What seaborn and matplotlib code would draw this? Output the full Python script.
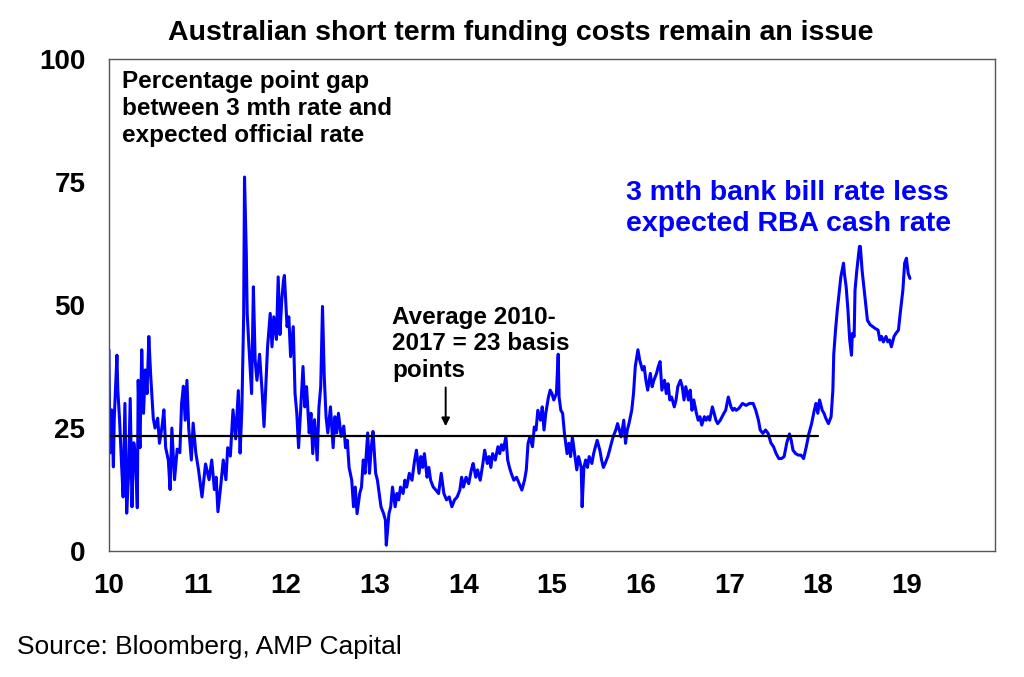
import seaborn as sns
import pandas as pd
import matplotlib.pyplot as plt

# 3 mth bank bill rate less expected RBA cash rate (basis points), x = year (10 = 2010)
years = [
    10.00, 10.01, 10.03, 10.05, 10.06, 10.09, 10.10, 10.12, 10.14, 10.16, 10.18, 10.20, 10.22, 10.24,
    10.26, 10.28, 10.30, 10.32, 10.33, 10.35, 10.37, 10.39, 10.41, 10.43, 10.45, 10.47, 10.50, 10.52,
    10.55, 10.57, 10.60, 10.62, 10.64, 10.67, 10.69, 10.71, 10.74, 10.77, 10.80, 10.82, 10.84, 10.86,
    10.88, 10.90, 10.93, 10.95, 10.98, 11.01, 11.05, 11.09, 11.13, 11.16, 11.19, 11.21, 11.23, 11.26,
    11.29, 11.32, 11.34, 11.37, 11.40, 11.43, 11.46, 11.48, 11.50, 11.52, 11.53, 11.55, 11.56, 11.58,
    11.61, 11.63, 11.65, 11.67, 11.70, 11.73, 11.75, 11.77, 11.79, 11.82, 11.84, 11.86, 11.89, 11.91,
    11.93, 11.95, 11.97, 11.98, 12.01, 12.03, 12.05, 12.08, 12.10, 12.12, 12.14, 12.17, 12.19, 12.21,
    12.23, 12.26, 12.28, 12.30, 12.32, 12.35, 12.37, 12.39, 12.41, 12.43, 12.45, 12.47, 12.50, 12.53,
    12.55, 12.57, 12.59, 12.62, 12.65, 12.67, 12.69, 12.71, 12.74, 12.76, 12.78, 12.80, 12.83, 12.85,
    12.87, 12.89, 12.92, 12.94, 12.96, 12.98, 13.01, 13.03, 13.05, 13.07, 13.10, 13.12, 13.13, 13.16,
    13.18, 13.20, 13.23, 13.25, 13.27, 13.29, 13.32, 13.34, 13.36, 13.39, 13.42, 13.45, 13.47, 13.50,
    13.52, 13.54, 13.56, 13.59, 13.61, 13.63, 13.66, 13.69, 13.72, 13.75, 13.78, 13.81, 13.84, 13.87,
    13.90, 13.93, 13.96, 13.98, 14.00, 14.03, 14.06, 14.09, 14.11, 14.14, 14.16, 14.19, 14.22, 14.24,
    14.27, 14.29, 14.31, 14.33, 14.36, 14.39, 14.41, 14.43, 14.45, 14.48, 14.50, 14.52, 14.54, 14.57,
    14.60, 14.63, 14.66, 14.69, 14.71, 14.73, 14.75, 14.78, 14.80, 14.82, 14.84, 14.87, 14.89, 14.91,
    14.93, 14.96, 14.98, 15.00, 15.02, 15.05, 15.07, 15.08, 15.10, 15.12, 15.14, 15.17, 15.19, 15.21,
    15.23, 15.26, 15.28, 15.30, 15.33, 15.34, 15.36, 15.38, 15.40, 15.42, 15.45, 15.47, 15.49, 15.51,
    15.54, 15.56, 15.58, 15.60, 15.63, 15.65, 15.67, 15.69, 15.72, 15.74, 15.76, 15.78, 15.81, 15.83,
    15.85, 15.87, 15.90, 15.92, 15.94, 15.97, 15.99, 16.02, 16.04, 16.06, 16.08, 16.11, 16.13, 16.15,
    16.18, 16.20, 16.22, 16.24, 16.27, 16.29, 16.31, 16.33, 16.35, 16.38, 16.40, 16.42, 16.45, 16.47,
    16.49, 16.51, 16.54, 16.56, 16.58, 16.60, 16.63, 16.65, 16.67, 16.69, 16.72, 16.74, 16.76, 16.78,
    16.81, 16.83, 16.85, 16.87, 16.90, 16.92, 16.94, 16.96, 16.99, 17.02, 17.04, 17.06, 17.08, 17.11,
    17.15, 17.19, 17.23, 17.27, 17.30, 17.33, 17.35, 17.38, 17.41, 17.44, 17.47, 17.50, 17.53, 17.56,
    17.59, 17.62, 17.65, 17.68, 17.70, 17.72, 17.75, 17.78, 17.81, 17.84, 17.87, 17.90, 17.93, 17.96,
    17.98, 18.00, 18.02, 18.05, 18.07, 18.09, 18.12, 18.15, 18.17, 18.18, 18.20, 18.22, 18.24, 18.26,
    18.29, 18.30, 18.32, 18.34, 18.36, 18.38, 18.39, 18.41, 18.42, 18.44, 18.47, 18.48, 18.50, 18.52,
    18.54, 18.56, 18.59, 18.62, 18.65, 18.68, 18.70, 18.72, 18.74, 18.77, 18.79, 18.81, 18.83, 18.86,
    18.88, 18.91, 18.93, 18.96, 18.98, 19.00, 19.02, 19.04,
]
gap_bp = [
    40.9, 19.9, 28.7, 17.1, 27.0, 39.8, 32.7, 26.6, 18.5, 11.0, 30.0, 7.7, 15.0, 31.0,
    9.0, 22.0, 19.2, 8.8, 34.7, 21.0, 40.9, 28.0, 36.8, 32.0, 43.6, 36.0, 27.0, 25.0,
    27.0, 21.9, 25.4, 28.7, 21.0, 18.5, 12.5, 25.0, 14.5, 20.7, 20.0, 30.0, 33.5, 26.6,
    34.7, 25.0, 18.5, 26.0, 20.0, 16.6, 11.0, 17.7, 14.5, 18.5, 12.5, 15.0, 8.0, 13.0,
    18.5, 14.5, 21.0, 19.3, 28.7, 22.8, 32.6, 19.9, 28.7, 47.6, 76.0, 60.5, 48.3, 41.5,
    32.0, 53.7, 38.8, 34.7, 40.0, 32.0, 25.3, 33.5, 41.5, 48.3, 41.5, 47.6, 43.0, 55.7,
    44.0, 51.0, 55.0, 56.0, 45.6, 47.6, 39.5, 45.6, 32.0, 28.0, 21.0, 30.7, 37.5, 29.3,
    33.4, 24.0, 28.0, 19.8, 26.7, 18.5, 29.3, 33.4, 49.7, 35.4, 27.3, 24.0, 29.3, 21.0,
    27.3, 24.0, 28.0, 23.3, 25.4, 21.0, 22.5, 17.0, 14.4, 9.0, 13.0, 7.6, 11.7, 13.0,
    18.5, 15.8, 24.0, 15.8, 21.0, 24.3, 15.8, 14.4, 11.7, 9.0, 7.6, 6.3, 1.2, 7.6,
    9.0, 13.0, 9.0, 11.7, 10.4, 13.0, 11.7, 14.4, 13.0, 15.8, 14.4, 18.5, 20.5, 15.8,
    19.2, 17.0, 19.8, 15.0, 17.0, 14.4, 13.0, 12.4, 11.7, 15.8, 11.7, 10.4, 11.0, 9.0,
    10.4, 11.0, 12.4, 15.0, 13.0, 15.0, 13.7, 16.5, 17.8, 15.0, 16.5, 14.4, 17.8, 20.5,
    17.8, 19.2, 17.0, 19.8, 18.5, 21.2, 19.8, 21.6, 20.5, 23.2, 18.5, 17.0, 15.8, 14.4,
    15.0, 13.7, 12.4, 14.4, 16.5, 21.9, 23.2, 21.2, 25.2, 24.6, 28.6, 26.6, 29.3, 24.6,
    28.0, 31.3, 32.7, 32.0, 30.7, 32.0, 40.0, 31.3, 28.6, 28.0, 24.0, 19.8, 21.9, 19.2,
    23.2, 19.2, 16.5, 19.2, 17.0, 9.0, 17.0, 18.5, 17.0, 19.2, 17.8, 19.8, 21.2, 22.5,
    20.5, 18.5, 17.0, 17.8, 19.2, 20.5, 21.9, 23.2, 24.6, 25.9, 24.6, 23.2, 26.6, 21.9,
    24.6, 26.0, 28.6, 32.0, 37.5, 40.9, 38.8, 36.8, 37.5, 34.7, 32.7, 36.1, 33.4, 34.7,
    36.1, 37.5, 38.5, 32.7, 34.7, 32.0, 34.0, 30.7, 31.3, 29.3, 30.7, 33.4, 34.7, 33.4,
    30.7, 33.4, 30.7, 32.7, 28.6, 30.7, 28.0, 26.6, 27.3, 25.6, 27.3, 26.6, 27.3, 26.6,
    29.3, 28.0, 26.6, 25.9, 26.6, 27.3, 28.0, 28.6, 31.3, 29.3, 28.6, 29.0, 28.6, 29.0,
    30.0, 29.6, 30.0, 30.0, 28.6, 26.6, 24.6, 23.9, 24.6, 23.9, 22.0, 21.2, 19.8, 18.8,
    18.8, 19.2, 22.0, 23.8, 22.5, 20.5, 19.8, 19.5, 19.5, 18.8, 21.2, 23.9, 25.9, 28.6,
    30.0, 28.0, 30.7, 28.6, 28.0, 27.0, 25.9, 27.3, 32.7, 40.0, 44.9, 49.0, 52.4, 55.7,
    58.5, 56.4, 53.7, 49.0, 42.9, 39.8, 44.2, 43.6, 53.0, 57.0, 61.9, 61.9, 57.0, 53.7,
    50.3, 46.9, 46.0, 45.6, 45.2, 44.9, 42.9, 43.6, 42.5, 43.6, 42.5, 42.9, 41.5, 43.6,
    44.2, 44.9, 48.3, 53.0, 58.5, 59.5, 56.4, 55.4,
]

avg_years = [10.0, 18.0]
avg_value = 23.4          # average 2010-2017
x_ticks = list(range(10, 20))
y_ticks = [0, 25, 50, 75, 100]

df = pd.DataFrame({'year': years, 'gap': gap_bp})
df_avg = pd.DataFrame({'year': avg_years, 'gap': [avg_value] * len(avg_years)})

sns.set_style('white')
plt.rcParams['font.family'] = ['Liberation Sans', 'DejaVu Sans']
plt.rcParams['text.color'] = 'black'

fig, ax = plt.subplots(figsize=(10.24, 6.77), dpi=100)
fig.subplots_adjust(left=0.1064, right=0.9717, bottom=0.186, top=0.913)

sns.lineplot(data=df, x='year', y='gap', color='#0000FF', linewidth=2.2, estimator=None, ax=ax)
sns.lineplot(data=df_avg, x='year', y='gap', color='black', linewidth=1.6, estimator=None, ax=ax)

ax.set_xlim(10, 20)
ax.set_ylim(0, 100)
ax.set_xticks(x_ticks)
ax.set_yticks(y_ticks)
ax.set_xticklabels([str(t) for t in x_ticks], fontsize=20, fontweight='bold')
ax.set_yticklabels([str(t) for t in y_ticks], fontsize=20, fontweight='bold')
ax.tick_params(axis='both', direction='in', length=5, width=1, color='#555555', labelcolor='black')
ax.tick_params(axis='x', pad=16)
ax.tick_params(axis='y', pad=17)
ax.set_xlabel('')
ax.set_ylabel('')
for sp in ax.spines.values():
    sp.set_color('#555555')
    sp.set_linewidth(1)

# annotations
ax.text(10.15, 97.8, 'Percentage point gap\nbetween 3 mth rate and\nexpected official rate',
        fontsize=17.5, fontweight='bold', ha='left', va='top', linespacing=1.22)
ax.text(15.84, 69.6, '3 mth bank bill rate less\nexpected RBA cash rate',
        fontsize=20.5, fontweight='bold', color='#0000FF', ha='left', va='center', linespacing=1.25)
ax.text(13.2, 42.1, 'Average 2010-\n2017 = 23 basis\npoints',
        fontsize=17.5, fontweight='bold', ha='left', va='center', linespacing=1.2)
ax.annotate('', xy=(13.8, 24.8), xytext=(13.8, 33.8),
            arrowprops=dict(arrowstyle='-|>', color='black', lw=1.4, mutation_scale=12))

fig.text(0.509, 0.951, 'Australian short term funding costs remain an issue',
         fontsize=20.5, fontweight='bold', ha='center', va='center')
fig.text(0.0166, 0.0443, 'Source: Bloomberg, AMP Capital', fontsize=19, ha='left', va='center')

fig.savefig('out.png', dpi=100)
